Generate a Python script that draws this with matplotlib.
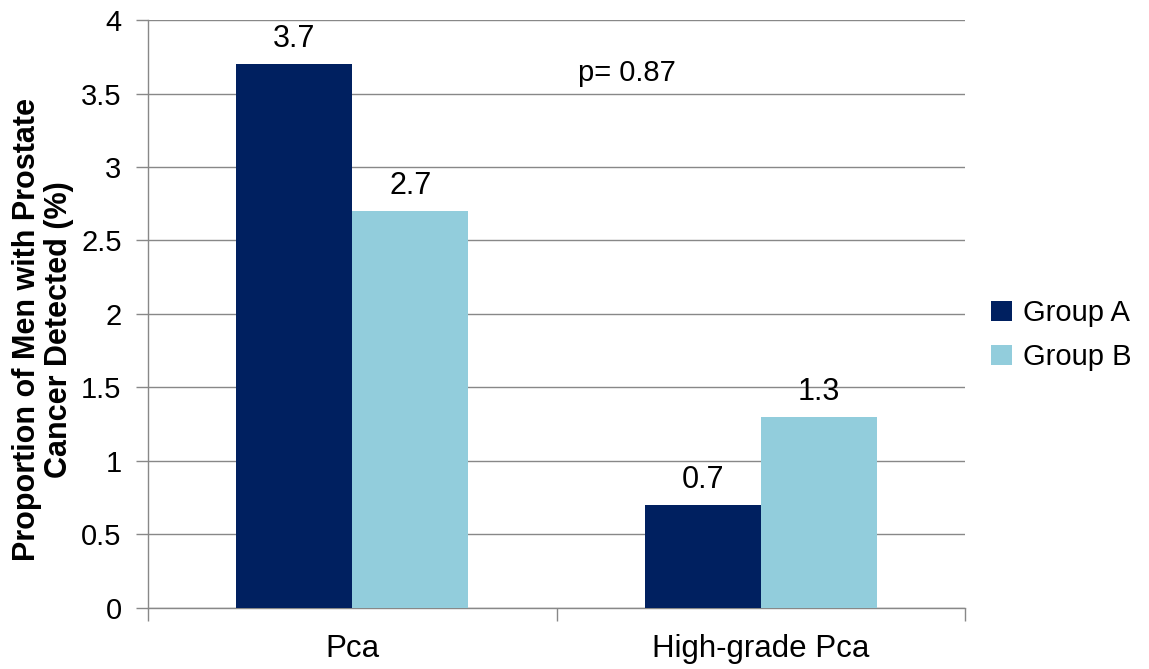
import numpy as np
import matplotlib.pyplot as plt

plt.rcParams['font.family'] = ['Liberation Sans', 'DejaVu Sans']

categories = ['Pca', 'High-grade Pca']
group_a = [3.7, 0.7]
group_b = [2.7, 1.3]
series_names = ['Group A', 'Group B']
colors = ['#002060', '#92CDDC']

fig = plt.figure(figsize=(11.49, 6.69), dpi=100)
ax = fig.add_axes([0.1288, 0.0912, 0.7111, 0.8789])

x = np.arange(len(categories))
w = 0.284
bars_a = ax.bar(x - w / 2, group_a, w, color=colors[0], label=series_names[0], zorder=3)
bars_b = ax.bar(x + w / 2, group_b, w, color=colors[1], label=series_names[1], zorder=3)

# value labels above bars
for bars in (bars_a, bars_b):
    for b in bars:
        ax.text(b.get_x() + b.get_width() / 2, b.get_height() + 0.07, f'{b.get_height():.1f}',
                ha='center', va='bottom', fontsize=22)

ax.text(0.673, 3.64, 'p= 0.87', ha='center', va='center', fontsize=21)

ax.set_xlim(-0.5, 1.5)
ax.set_ylim(0, 4)
ax.set_yticks(np.arange(0, 4.01, 0.5))
ax.set_yticklabels(['0', '0.5', '1', '1.5', '2', '2.5', '3', '3.5', '4'])
ax.set_xticks(x)
ax.set_xticklabels(categories)
ax.set_xticks([-0.5, 0.5, 1.5], minor=True)
ax.tick_params(axis='x', which='major', length=0, pad=19, labelsize=22.5)
ax.tick_params(axis='x', which='minor', length=9, color='#888888', width=1)
ax.tick_params(axis='y', length=9, color='#888888', width=1, labelsize=21, pad=10)

ax.grid(axis='y', color='#888888', linewidth=1, zorder=0)
for s in ['top', 'right']:
    ax.spines[s].set_visible(False)
for s in ['left', 'bottom']:
    ax.spines[s].set_color('#888888')
    ax.spines[s].set_linewidth(1)

ax.set_ylabel('Proportion of Men with Prostate\nCancer Detected (%)', fontsize=22,
              fontweight='bold', linespacing=1.05)
ax.yaxis.set_label_coords(-0.091, 0.473)

ax.legend(loc='center left', bbox_to_anchor=(1.0, 0.464), frameon=False, fontsize=21,
          handlelength=0.7, handleheight=0.7, handletextpad=0.4, labelspacing=0.55)

fig.savefig('out.png', dpi=100)
